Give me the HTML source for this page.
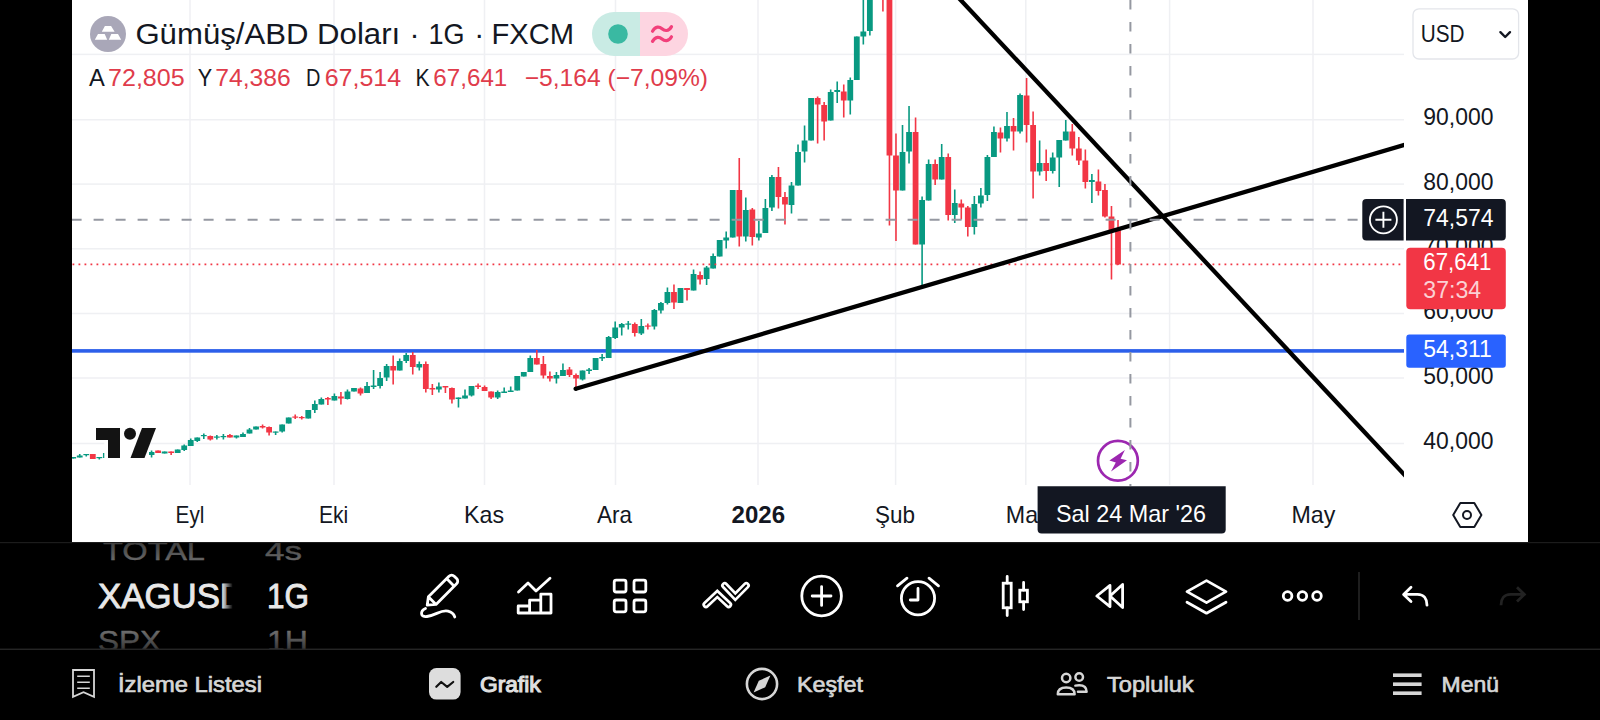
<!DOCTYPE html>
<html><head><meta charset="utf-8"><title>chart</title>
<style>
html,body{margin:0;padding:0;background:#000;}
body{width:1600px;height:720px;overflow:hidden;position:relative;font-family:"Liberation Sans",sans-serif;}
svg{position:absolute;left:0;top:0;display:block}
text{font-family:"Liberation Sans",sans-serif;}
</style></head><body>
<svg width="1600" height="720" viewBox="0 0 1600 720">
<defs>
<clipPath id="pane"><rect x="72" y="0" width="1332" height="486"/></clipPath>
<linearGradient id="fadeR" x1="0" x2="1" y1="0" y2="0"><stop offset="0" stop-color="#000" stop-opacity="0"/><stop offset="1" stop-color="#000" stop-opacity="1"/></linearGradient>
<linearGradient id="wheel" x1="0" x2="0" y1="0" y2="1">
<stop offset="0" stop-color="#000" stop-opacity="0.55"/><stop offset="0.2" stop-color="#000" stop-opacity="0.2"/><stop offset="0.36" stop-color="#000" stop-opacity="0"/><stop offset="0.64" stop-color="#000" stop-opacity="0"/><stop offset="0.8" stop-color="#000" stop-opacity="0.15"/><stop offset="1" stop-color="#000" stop-opacity="0.6"/></linearGradient>
<clipPath id="wheelclip"><rect x="72" y="543" width="330" height="106"/></clipPath>
</defs>
<rect x="0" y="0" width="1600" height="720" fill="#000"/>
<rect x="72" y="0" width="1456" height="542" fill="#fff"/>

<rect x="72" y="53.65" width="1332" height="1.5" fill="#eff0f3"/>
<rect x="72" y="119.0" width="1332" height="1.5" fill="#eff0f3"/>
<rect x="72" y="183.35" width="1332" height="1.5" fill="#eff0f3"/>
<rect x="72" y="248.05" width="1332" height="1.5" fill="#eff0f3"/>
<rect x="72" y="312.75" width="1332" height="1.5" fill="#eff0f3"/>
<rect x="72" y="377.25" width="1332" height="1.5" fill="#eff0f3"/>
<rect x="72" y="442.75" width="1332" height="1.5" fill="#eff0f3"/>
<rect x="189.25" y="0" width="1.5" height="485" fill="#eff0f3"/>
<rect x="333.25" y="0" width="1.5" height="485" fill="#eff0f3"/>
<rect x="483.75" y="0" width="1.5" height="485" fill="#eff0f3"/>
<rect x="614.75" y="0" width="1.5" height="485" fill="#eff0f3"/>
<rect x="757.25" y="0" width="1.5" height="485" fill="#eff0f3"/>
<rect x="894.85" y="0" width="1.5" height="485" fill="#eff0f3"/>
<rect x="1025.05" y="0" width="1.5" height="485" fill="#eff0f3"/>
<rect x="1168.85" y="0" width="1.5" height="485" fill="#eff0f3"/>
<rect x="1312.25" y="0" width="1.5" height="485" fill="#eff0f3"/>
<g clip-path="url(#pane)">
<rect x="72" y="349.1" width="1332" height="3.6" fill="#2c5fea"/>
<rect x="72.40" y="457.0" width="1.6" height="1.5" fill="#089981"/>
<rect x="70.30" y="457.0" width="5.8" height="1.5" fill="#089981"/>
<rect x="78.93" y="454.0" width="1.6" height="3.5" fill="#089981"/>
<rect x="76.83" y="455.5" width="5.8" height="2.0" fill="#089981"/>
<rect x="85.46" y="454.0" width="1.6" height="2.5" fill="#089981"/>
<rect x="83.36" y="454.0" width="5.8" height="1.2" fill="#089981"/>
<rect x="91.99" y="454.0" width="1.6" height="5.0" fill="#f23645"/>
<rect x="89.89" y="454.0" width="5.8" height="5.0" fill="#f23645"/>
<rect x="98.52" y="457.0" width="1.6" height="2.5" fill="#089981"/>
<rect x="96.42" y="457.0" width="5.8" height="1.2" fill="#089981"/>
<rect x="105.05" y="453.0" width="1.6" height="5.0" fill="#089981"/>
<rect x="102.95" y="453.0" width="5.8" height="5.0" fill="#089981"/>
<rect x="150.76" y="450.5" width="1.6" height="7.0" fill="#089981"/>
<rect x="148.66" y="452.0" width="5.8" height="3.0" fill="#089981"/>
<rect x="157.29" y="450.5" width="1.6" height="2.5" fill="#f23645"/>
<rect x="155.19" y="450.5" width="5.8" height="2.5" fill="#f23645"/>
<rect x="163.82" y="451.5" width="1.6" height="2.0" fill="#089981"/>
<rect x="161.72" y="451.5" width="5.8" height="2.0" fill="#089981"/>
<rect x="170.35" y="451.5" width="1.6" height="3.5" fill="#f23645"/>
<rect x="168.25" y="451.5" width="5.8" height="1.5" fill="#f23645"/>
<rect x="176.88" y="449.5" width="1.6" height="3.5" fill="#089981"/>
<rect x="174.78" y="449.5" width="5.8" height="3.5" fill="#089981"/>
<rect x="183.41" y="444.5" width="1.6" height="6.5" fill="#089981"/>
<rect x="181.31" y="445.5" width="5.8" height="4.5" fill="#089981"/>
<rect x="189.94" y="438.5" width="1.6" height="7.5" fill="#089981"/>
<rect x="187.84" y="440.0" width="5.8" height="6.0" fill="#089981"/>
<rect x="196.47" y="437.5" width="1.6" height="4.5" fill="#089981"/>
<rect x="194.37" y="437.5" width="5.8" height="3.5" fill="#089981"/>
<rect x="203.00" y="433.5" width="1.6" height="5.5" fill="#089981"/>
<rect x="200.90" y="435.0" width="5.8" height="1.2" fill="#089981"/>
<rect x="209.53" y="435.5" width="1.6" height="5.0" fill="#f23645"/>
<rect x="207.43" y="436.0" width="5.8" height="3.5" fill="#f23645"/>
<rect x="216.06" y="435.0" width="1.6" height="4.5" fill="#089981"/>
<rect x="213.96" y="436.5" width="5.8" height="1.2" fill="#089981"/>
<rect x="222.59" y="434.0" width="1.6" height="5.5" fill="#089981"/>
<rect x="220.49" y="436.0" width="5.8" height="1.2" fill="#089981"/>
<rect x="229.12" y="434.0" width="1.6" height="3.5" fill="#f23645"/>
<rect x="227.02" y="435.0" width="5.8" height="2.5" fill="#f23645"/>
<rect x="235.65" y="435.5" width="1.6" height="3.0" fill="#089981"/>
<rect x="233.55" y="435.5" width="5.8" height="2.0" fill="#089981"/>
<rect x="242.18" y="432.5" width="1.6" height="4.5" fill="#089981"/>
<rect x="240.08" y="434.0" width="5.8" height="3.0" fill="#089981"/>
<rect x="248.71" y="428.0" width="1.6" height="5.5" fill="#089981"/>
<rect x="246.61" y="429.5" width="5.8" height="4.0" fill="#089981"/>
<rect x="255.24" y="426.5" width="1.6" height="3.0" fill="#089981"/>
<rect x="253.14" y="426.5" width="5.8" height="3.0" fill="#089981"/>
<rect x="261.77" y="424.5" width="1.6" height="4.0" fill="#f23645"/>
<rect x="259.67" y="426.0" width="5.8" height="1.5" fill="#f23645"/>
<rect x="268.30" y="426.5" width="1.6" height="9.0" fill="#f23645"/>
<rect x="266.20" y="427.0" width="5.8" height="5.5" fill="#f23645"/>
<rect x="274.83" y="431.5" width="1.6" height="3.5" fill="#089981"/>
<rect x="272.73" y="431.5" width="5.8" height="1.2" fill="#089981"/>
<rect x="281.36" y="424.5" width="1.6" height="8.0" fill="#089981"/>
<rect x="279.26" y="424.5" width="5.8" height="7.0" fill="#089981"/>
<rect x="287.89" y="417.5" width="1.6" height="6.0" fill="#089981"/>
<rect x="285.79" y="417.5" width="5.8" height="6.0" fill="#089981"/>
<rect x="294.42" y="414.5" width="1.6" height="4.5" fill="#f23645"/>
<rect x="292.32" y="416.5" width="5.8" height="1.2" fill="#f23645"/>
<rect x="300.95" y="416.0" width="1.6" height="3.5" fill="#f23645"/>
<rect x="298.85" y="417.0" width="5.8" height="1.2" fill="#f23645"/>
<rect x="307.48" y="410.0" width="1.6" height="8.5" fill="#089981"/>
<rect x="305.38" y="410.0" width="5.8" height="8.5" fill="#089981"/>
<rect x="314.01" y="400.5" width="1.6" height="12.5" fill="#089981"/>
<rect x="311.91" y="404.0" width="5.8" height="6.0" fill="#089981"/>
<rect x="320.54" y="397.5" width="1.6" height="7.0" fill="#089981"/>
<rect x="318.44" y="399.0" width="5.8" height="5.5" fill="#089981"/>
<rect x="327.07" y="397.0" width="1.6" height="8.0" fill="#f23645"/>
<rect x="324.97" y="398.0" width="5.8" height="1.5" fill="#f23645"/>
<rect x="333.60" y="393.5" width="1.6" height="7.0" fill="#089981"/>
<rect x="331.50" y="396.0" width="5.8" height="4.5" fill="#089981"/>
<rect x="340.13" y="392.0" width="1.6" height="12.5" fill="#f23645"/>
<rect x="338.03" y="396.5" width="5.8" height="2.0" fill="#f23645"/>
<rect x="346.66" y="389.5" width="1.6" height="10.0" fill="#089981"/>
<rect x="344.56" y="391.5" width="5.8" height="7.5" fill="#089981"/>
<rect x="353.19" y="388.0" width="1.6" height="3.5" fill="#089981"/>
<rect x="351.09" y="388.0" width="5.8" height="3.5" fill="#089981"/>
<rect x="359.72" y="387.5" width="1.6" height="8.0" fill="#f23645"/>
<rect x="357.62" y="388.5" width="5.8" height="5.0" fill="#f23645"/>
<rect x="366.25" y="382.0" width="1.6" height="11.0" fill="#089981"/>
<rect x="364.15" y="386.0" width="5.8" height="7.0" fill="#089981"/>
<rect x="372.78" y="370.0" width="1.6" height="19.0" fill="#089981"/>
<rect x="370.68" y="385.5" width="5.8" height="1.5" fill="#089981"/>
<rect x="379.31" y="372.0" width="1.6" height="16.5" fill="#089981"/>
<rect x="377.21" y="378.0" width="5.8" height="8.0" fill="#089981"/>
<rect x="385.84" y="364.0" width="1.6" height="17.0" fill="#089981"/>
<rect x="383.74" y="366.0" width="5.8" height="11.5" fill="#089981"/>
<rect x="392.37" y="355.5" width="1.6" height="29.0" fill="#f23645"/>
<rect x="390.27" y="366.0" width="5.8" height="4.5" fill="#f23645"/>
<rect x="398.90" y="358.5" width="1.6" height="12.0" fill="#089981"/>
<rect x="396.80" y="361.0" width="5.8" height="9.5" fill="#089981"/>
<rect x="405.43" y="353.0" width="1.6" height="10.0" fill="#089981"/>
<rect x="403.33" y="355.0" width="5.8" height="6.0" fill="#089981"/>
<rect x="411.96" y="352.0" width="1.6" height="22.5" fill="#f23645"/>
<rect x="409.86" y="355.0" width="5.8" height="12.0" fill="#f23645"/>
<rect x="418.49" y="361.5" width="1.6" height="9.0" fill="#089981"/>
<rect x="416.39" y="364.0" width="5.8" height="3.5" fill="#089981"/>
<rect x="425.02" y="361.5" width="1.6" height="31.0" fill="#f23645"/>
<rect x="422.92" y="364.0" width="5.8" height="25.0" fill="#f23645"/>
<rect x="431.55" y="384.0" width="1.6" height="11.0" fill="#f23645"/>
<rect x="429.45" y="388.0" width="5.8" height="1.5" fill="#f23645"/>
<rect x="438.08" y="382.5" width="1.6" height="10.0" fill="#089981"/>
<rect x="435.98" y="386.5" width="5.8" height="3.0" fill="#089981"/>
<rect x="444.61" y="386.0" width="1.6" height="7.0" fill="#f23645"/>
<rect x="442.51" y="386.0" width="5.8" height="1.5" fill="#f23645"/>
<rect x="451.14" y="387.5" width="1.6" height="16.0" fill="#f23645"/>
<rect x="449.04" y="388.0" width="5.8" height="11.5" fill="#f23645"/>
<rect x="457.67" y="397.5" width="1.6" height="10.0" fill="#089981"/>
<rect x="455.57" y="397.5" width="5.8" height="1.5" fill="#089981"/>
<rect x="464.20" y="389.5" width="1.6" height="9.0" fill="#089981"/>
<rect x="462.10" y="395.5" width="5.8" height="3.0" fill="#089981"/>
<rect x="470.73" y="386.0" width="1.6" height="10.5" fill="#089981"/>
<rect x="468.63" y="386.0" width="5.8" height="9.5" fill="#089981"/>
<rect x="477.26" y="383.5" width="1.6" height="5.5" fill="#f23645"/>
<rect x="475.16" y="385.5" width="5.8" height="1.5" fill="#f23645"/>
<rect x="483.79" y="385.5" width="1.6" height="5.5" fill="#f23645"/>
<rect x="481.69" y="387.0" width="5.8" height="4.0" fill="#f23645"/>
<rect x="490.32" y="391.5" width="1.6" height="7.5" fill="#f23645"/>
<rect x="488.22" y="391.5" width="5.8" height="6.0" fill="#f23645"/>
<rect x="496.85" y="390.5" width="1.6" height="8.5" fill="#089981"/>
<rect x="494.75" y="392.0" width="5.8" height="5.5" fill="#089981"/>
<rect x="503.38" y="387.5" width="1.6" height="5.5" fill="#089981"/>
<rect x="501.28" y="391.5" width="5.8" height="1.5" fill="#089981"/>
<rect x="509.91" y="386.5" width="1.6" height="5.5" fill="#089981"/>
<rect x="507.81" y="390.5" width="5.8" height="1.5" fill="#089981"/>
<rect x="516.44" y="376.0" width="1.6" height="14.5" fill="#089981"/>
<rect x="514.34" y="376.0" width="5.8" height="14.5" fill="#089981"/>
<rect x="522.97" y="372.0" width="1.6" height="4.5" fill="#089981"/>
<rect x="520.87" y="372.0" width="5.8" height="4.5" fill="#089981"/>
<rect x="529.50" y="355.5" width="1.6" height="16.5" fill="#089981"/>
<rect x="527.40" y="358.0" width="5.8" height="14.0" fill="#089981"/>
<rect x="536.03" y="350.0" width="1.6" height="14.5" fill="#f23645"/>
<rect x="533.93" y="358.0" width="5.8" height="6.5" fill="#f23645"/>
<rect x="542.56" y="356.0" width="1.6" height="22.5" fill="#f23645"/>
<rect x="540.46" y="364.0" width="5.8" height="11.5" fill="#f23645"/>
<rect x="549.09" y="371.5" width="1.6" height="10.0" fill="#f23645"/>
<rect x="546.99" y="376.0" width="5.8" height="2.5" fill="#f23645"/>
<rect x="555.62" y="372.0" width="1.6" height="11.5" fill="#089981"/>
<rect x="553.52" y="375.0" width="5.8" height="3.5" fill="#089981"/>
<rect x="562.15" y="363.5" width="1.6" height="12.5" fill="#089981"/>
<rect x="560.05" y="370.0" width="5.8" height="6.0" fill="#089981"/>
<rect x="568.68" y="367.0" width="1.6" height="10.0" fill="#f23645"/>
<rect x="566.58" y="369.5" width="5.8" height="5.5" fill="#f23645"/>
<rect x="575.21" y="373.5" width="1.6" height="14.5" fill="#f23645"/>
<rect x="573.11" y="375.0" width="5.8" height="3.5" fill="#f23645"/>
<rect x="581.74" y="370.5" width="1.6" height="10.0" fill="#089981"/>
<rect x="579.64" y="370.5" width="5.8" height="9.0" fill="#089981"/>
<rect x="588.27" y="368.0" width="1.6" height="6.0" fill="#089981"/>
<rect x="586.17" y="369.5" width="5.8" height="1.5" fill="#089981"/>
<rect x="594.80" y="358.0" width="1.6" height="12.0" fill="#089981"/>
<rect x="592.70" y="358.0" width="5.8" height="12.0" fill="#089981"/>
<rect x="601.33" y="354.0" width="1.6" height="7.0" fill="#089981"/>
<rect x="599.23" y="357.0" width="5.8" height="1.5" fill="#089981"/>
<rect x="607.86" y="336.0" width="1.6" height="22.0" fill="#089981"/>
<rect x="605.76" y="337.0" width="5.8" height="21.0" fill="#089981"/>
<rect x="614.39" y="321.5" width="1.6" height="17.5" fill="#089981"/>
<rect x="612.29" y="327.5" width="5.8" height="10.5" fill="#089981"/>
<rect x="620.92" y="323.0" width="1.6" height="12.5" fill="#089981"/>
<rect x="618.82" y="324.0" width="5.8" height="3.5" fill="#089981"/>
<rect x="627.45" y="321.0" width="1.6" height="8.5" fill="#089981"/>
<rect x="625.35" y="323.5" width="5.8" height="1.2" fill="#089981"/>
<rect x="633.98" y="322.5" width="1.6" height="14.0" fill="#f23645"/>
<rect x="631.88" y="324.0" width="5.8" height="9.0" fill="#f23645"/>
<rect x="640.51" y="319.0" width="1.6" height="16.0" fill="#089981"/>
<rect x="638.41" y="326.0" width="5.8" height="7.5" fill="#089981"/>
<rect x="647.04" y="323.5" width="1.6" height="6.0" fill="#f23645"/>
<rect x="644.94" y="325.5" width="5.8" height="1.2" fill="#f23645"/>
<rect x="653.57" y="309.0" width="1.6" height="20.5" fill="#089981"/>
<rect x="651.47" y="310.0" width="5.8" height="16.5" fill="#089981"/>
<rect x="660.10" y="302.0" width="1.6" height="11.5" fill="#089981"/>
<rect x="658.00" y="303.0" width="5.8" height="7.5" fill="#089981"/>
<rect x="666.63" y="287.5" width="1.6" height="17.0" fill="#089981"/>
<rect x="664.53" y="292.0" width="5.8" height="11.0" fill="#089981"/>
<rect x="673.16" y="284.5" width="1.6" height="24.5" fill="#f23645"/>
<rect x="671.06" y="292.0" width="5.8" height="10.5" fill="#f23645"/>
<rect x="679.69" y="288.0" width="1.6" height="15.0" fill="#089981"/>
<rect x="677.59" y="288.0" width="5.8" height="15.0" fill="#089981"/>
<rect x="686.22" y="288.0" width="1.6" height="12.5" fill="#f23645"/>
<rect x="684.12" y="288.0" width="5.8" height="2.0" fill="#f23645"/>
<rect x="692.75" y="269.5" width="1.6" height="21.0" fill="#089981"/>
<rect x="690.65" y="274.0" width="5.8" height="16.5" fill="#089981"/>
<rect x="699.28" y="271.5" width="1.6" height="13.0" fill="#f23645"/>
<rect x="697.18" y="275.0" width="5.8" height="4.5" fill="#f23645"/>
<rect x="705.81" y="266.0" width="1.6" height="19.0" fill="#089981"/>
<rect x="703.71" y="267.5" width="5.8" height="11.5" fill="#089981"/>
<rect x="712.34" y="253.5" width="1.6" height="15.0" fill="#089981"/>
<rect x="710.24" y="256.0" width="5.8" height="12.5" fill="#089981"/>
<rect x="718.87" y="240.0" width="1.6" height="16.5" fill="#089981"/>
<rect x="716.77" y="240.0" width="5.8" height="16.5" fill="#089981"/>
<rect x="725.40" y="231.5" width="1.6" height="17.0" fill="#089981"/>
<rect x="723.30" y="237.5" width="5.8" height="3.0" fill="#089981"/>
<rect x="731.93" y="190.0" width="1.6" height="47.5" fill="#089981"/>
<rect x="729.83" y="190.0" width="5.8" height="47.5" fill="#089981"/>
<rect x="738.46" y="158.0" width="1.6" height="88.5" fill="#f23645"/>
<rect x="736.36" y="190.0" width="5.8" height="46.5" fill="#f23645"/>
<rect x="744.99" y="197.5" width="1.6" height="44.0" fill="#089981"/>
<rect x="742.89" y="210.0" width="5.8" height="26.5" fill="#089981"/>
<rect x="751.52" y="208.0" width="1.6" height="37.5" fill="#f23645"/>
<rect x="749.42" y="209.5" width="5.8" height="27.5" fill="#f23645"/>
<rect x="758.05" y="221.0" width="1.6" height="19.5" fill="#089981"/>
<rect x="755.95" y="233.5" width="5.8" height="4.0" fill="#089981"/>
<rect x="764.58" y="199.0" width="1.6" height="34.0" fill="#089981"/>
<rect x="762.48" y="208.0" width="5.8" height="25.0" fill="#089981"/>
<rect x="771.11" y="175.0" width="1.6" height="36.0" fill="#089981"/>
<rect x="769.01" y="177.0" width="5.8" height="30.5" fill="#089981"/>
<rect x="777.64" y="167.0" width="1.6" height="41.5" fill="#f23645"/>
<rect x="775.54" y="177.0" width="5.8" height="20.0" fill="#f23645"/>
<rect x="784.17" y="192.0" width="1.6" height="32.5" fill="#f23645"/>
<rect x="782.07" y="197.0" width="5.8" height="7.5" fill="#f23645"/>
<rect x="790.70" y="182.0" width="1.6" height="31.5" fill="#089981"/>
<rect x="788.60" y="185.5" width="5.8" height="19.5" fill="#089981"/>
<rect x="797.23" y="144.5" width="1.6" height="41.0" fill="#089981"/>
<rect x="795.13" y="152.0" width="5.8" height="33.5" fill="#089981"/>
<rect x="803.76" y="125.5" width="1.6" height="37.0" fill="#089981"/>
<rect x="801.66" y="140.5" width="5.8" height="11.0" fill="#089981"/>
<rect x="810.29" y="98.0" width="1.6" height="42.5" fill="#089981"/>
<rect x="808.19" y="98.0" width="5.8" height="42.5" fill="#089981"/>
<rect x="816.82" y="96.5" width="1.6" height="47.0" fill="#f23645"/>
<rect x="814.72" y="98.0" width="5.8" height="6.5" fill="#f23645"/>
<rect x="823.35" y="102.0" width="1.6" height="38.5" fill="#f23645"/>
<rect x="821.25" y="105.0" width="5.8" height="16.5" fill="#f23645"/>
<rect x="829.88" y="89.5" width="1.6" height="31.0" fill="#089981"/>
<rect x="827.78" y="92.0" width="5.8" height="28.5" fill="#089981"/>
<rect x="836.41" y="81.5" width="1.6" height="21.5" fill="#089981"/>
<rect x="834.31" y="90.0" width="5.8" height="2.0" fill="#089981"/>
<rect x="842.94" y="84.5" width="1.6" height="33.0" fill="#f23645"/>
<rect x="840.84" y="91.5" width="5.8" height="9.0" fill="#f23645"/>
<rect x="849.47" y="77.5" width="1.6" height="37.0" fill="#089981"/>
<rect x="847.37" y="80.0" width="5.8" height="20.5" fill="#089981"/>
<rect x="856.00" y="36.5" width="1.6" height="43.5" fill="#089981"/>
<rect x="853.90" y="36.5" width="5.8" height="43.5" fill="#089981"/>
<rect x="862.53" y="-5.0" width="1.6" height="49.5" fill="#089981"/>
<rect x="860.43" y="31.5" width="5.8" height="5.0" fill="#089981"/>
<rect x="869.06" y="-5.0" width="1.6" height="40.5" fill="#089981"/>
<rect x="866.96" y="-5.0" width="5.8" height="36.0" fill="#089981"/>
<rect x="882.12" y="-5.0" width="1.6" height="16.5" fill="#f23645"/>
<rect x="880.02" y="-5.0" width="5.8" height="3.0" fill="#f23645"/>
<rect x="888.65" y="-5.0" width="1.6" height="230.5" fill="#f23645"/>
<rect x="886.55" y="-5.0" width="5.8" height="160.5" fill="#f23645"/>
<rect x="895.18" y="133.5" width="1.6" height="107.5" fill="#f23645"/>
<rect x="893.08" y="155.5" width="5.8" height="35.0" fill="#f23645"/>
<rect x="901.71" y="125.0" width="1.6" height="65.5" fill="#089981"/>
<rect x="899.61" y="152.0" width="5.8" height="38.5" fill="#089981"/>
<rect x="908.24" y="106.0" width="1.6" height="57.5" fill="#089981"/>
<rect x="906.14" y="132.0" width="5.8" height="19.5" fill="#089981"/>
<rect x="914.77" y="117.5" width="1.6" height="127.0" fill="#f23645"/>
<rect x="912.67" y="132.0" width="5.8" height="112.5" fill="#f23645"/>
<rect x="921.30" y="196.5" width="1.6" height="90.5" fill="#089981"/>
<rect x="919.20" y="200.0" width="5.8" height="44.5" fill="#089981"/>
<rect x="927.83" y="159.5" width="1.6" height="41.0" fill="#089981"/>
<rect x="925.73" y="164.0" width="5.8" height="36.5" fill="#089981"/>
<rect x="934.36" y="159.5" width="1.6" height="25.5" fill="#f23645"/>
<rect x="932.26" y="164.0" width="5.8" height="15.5" fill="#f23645"/>
<rect x="940.89" y="144.0" width="1.6" height="35.5" fill="#089981"/>
<rect x="938.79" y="157.0" width="5.8" height="22.5" fill="#089981"/>
<rect x="947.42" y="153.5" width="1.6" height="67.0" fill="#f23645"/>
<rect x="945.32" y="157.0" width="5.8" height="58.0" fill="#f23645"/>
<rect x="953.95" y="189.5" width="1.6" height="33.5" fill="#089981"/>
<rect x="951.85" y="203.0" width="5.8" height="12.0" fill="#089981"/>
<rect x="960.48" y="199.5" width="1.6" height="20.0" fill="#f23645"/>
<rect x="958.38" y="203.5" width="5.8" height="4.0" fill="#f23645"/>
<rect x="967.01" y="206.0" width="1.6" height="30.5" fill="#f23645"/>
<rect x="964.91" y="207.5" width="5.8" height="19.5" fill="#f23645"/>
<rect x="973.54" y="196.0" width="1.6" height="38.5" fill="#089981"/>
<rect x="971.44" y="204.0" width="5.8" height="23.0" fill="#089981"/>
<rect x="980.07" y="188.0" width="1.6" height="19.5" fill="#089981"/>
<rect x="977.97" y="195.5" width="5.8" height="8.0" fill="#089981"/>
<rect x="986.60" y="155.0" width="1.6" height="46.0" fill="#089981"/>
<rect x="984.50" y="157.0" width="5.8" height="38.0" fill="#089981"/>
<rect x="993.13" y="126.5" width="1.6" height="30.5" fill="#089981"/>
<rect x="991.03" y="132.0" width="5.8" height="25.0" fill="#089981"/>
<rect x="999.66" y="127.5" width="1.6" height="25.0" fill="#f23645"/>
<rect x="997.56" y="132.5" width="5.8" height="6.0" fill="#f23645"/>
<rect x="1006.19" y="112.0" width="1.6" height="29.5" fill="#089981"/>
<rect x="1004.09" y="126.0" width="5.8" height="12.5" fill="#089981"/>
<rect x="1012.72" y="118.0" width="1.6" height="32.5" fill="#f23645"/>
<rect x="1010.62" y="126.0" width="5.8" height="5.5" fill="#f23645"/>
<rect x="1019.25" y="93.5" width="1.6" height="40.0" fill="#089981"/>
<rect x="1017.15" y="95.0" width="5.8" height="36.5" fill="#089981"/>
<rect x="1025.78" y="78.0" width="1.6" height="64.5" fill="#f23645"/>
<rect x="1023.68" y="95.5" width="5.8" height="29.5" fill="#f23645"/>
<rect x="1032.31" y="111.5" width="1.6" height="87.0" fill="#f23645"/>
<rect x="1030.21" y="125.0" width="5.8" height="46.5" fill="#f23645"/>
<rect x="1038.84" y="140.5" width="1.6" height="35.0" fill="#089981"/>
<rect x="1036.74" y="163.0" width="5.8" height="8.5" fill="#089981"/>
<rect x="1045.37" y="149.5" width="1.6" height="31.5" fill="#f23645"/>
<rect x="1043.27" y="163.0" width="5.8" height="8.0" fill="#f23645"/>
<rect x="1051.90" y="152.5" width="1.6" height="21.0" fill="#089981"/>
<rect x="1049.80" y="157.5" width="5.8" height="13.5" fill="#089981"/>
<rect x="1058.43" y="140.0" width="1.6" height="47.0" fill="#089981"/>
<rect x="1056.33" y="140.0" width="5.8" height="17.5" fill="#089981"/>
<rect x="1064.96" y="120.0" width="1.6" height="20.5" fill="#089981"/>
<rect x="1062.86" y="131.5" width="5.8" height="9.0" fill="#089981"/>
<rect x="1071.49" y="124.0" width="1.6" height="31.5" fill="#f23645"/>
<rect x="1069.39" y="131.5" width="5.8" height="17.0" fill="#f23645"/>
<rect x="1078.02" y="137.0" width="1.6" height="28.0" fill="#f23645"/>
<rect x="1075.92" y="148.5" width="5.8" height="12.0" fill="#f23645"/>
<rect x="1084.55" y="149.5" width="1.6" height="39.0" fill="#f23645"/>
<rect x="1082.45" y="160.5" width="5.8" height="21.5" fill="#f23645"/>
<rect x="1091.08" y="174.0" width="1.6" height="29.0" fill="#089981"/>
<rect x="1088.98" y="180.0" width="5.8" height="2.0" fill="#089981"/>
<rect x="1097.61" y="169.5" width="1.6" height="26.0" fill="#f23645"/>
<rect x="1095.51" y="181.5" width="5.8" height="9.5" fill="#f23645"/>
<rect x="1104.14" y="184.0" width="1.6" height="33.5" fill="#f23645"/>
<rect x="1102.04" y="190.0" width="5.8" height="26.5" fill="#f23645"/>
<rect x="1110.67" y="206.0" width="1.6" height="73.5" fill="#f23645"/>
<rect x="1108.57" y="216.5" width="5.8" height="15.0" fill="#f23645"/>
<rect x="1117.20" y="220.0" width="1.6" height="45.0" fill="#f23645"/>
<rect x="1115.10" y="228.0" width="5.8" height="36.5" fill="#f23645"/>
<line x1="72.5" y1="264.3" x2="1404" y2="264.3" stroke="#f23645" stroke-width="1.8" stroke-dasharray="1.8 4.2"/>
<line x1="575" y1="389" x2="1410" y2="143.3" stroke="#000" stroke-width="4.3" />
<circle cx="575.5" cy="388.8" r="2.1" fill="#000"/>
<line x1="940" y1="-22.1" x2="1410" y2="480.8" stroke="#000" stroke-width="4.3"/>
</g>
<rect x="104.3" y="424" width="44.7" height="38" fill="#fff"/>
<path d="M96 428H120V458H108V440H96Z" fill="#131313"/><circle cx="130" cy="433.8" r="6" fill="#131313"/><path d="M142 428H156L144.5 458H130.5Z" fill="#131313"/>
<circle cx="1117.9" cy="460.8" r="19.9" fill="#fff" stroke="#9c27b0" stroke-width="2.7"/>
<path d="M1124.9 450.1L1109.4 460.6L1115.8 462.4L1111.0 471.5L1127.0 460.3L1120.6 458.7Z" fill="#9c27b0"/>
<line x1="72" y1="219.8" x2="1362" y2="219.8" stroke="#9598a1" stroke-width="2" stroke-dasharray="10 12" stroke-dashoffset="0.4"/>
<line x1="1130.4" y1="0" x2="1130.4" y2="486" stroke="#9598a1" stroke-width="2" stroke-dasharray="9.5 12.5"/>
<circle cx="108" cy="34" r="18" fill="#a9a7b8"/>
<path d="M104.9 26.1H111.1L114.6 31.7H101.8Z M98 34.1H104.7L107.2 39.8H94.8Z M111.3 34.1H118L121.2 39.8H108.8Z" fill="#fff"/>
<text x="135.4" y="44.4" font-size="30" fill="#131722" textLength="264.8" lengthAdjust="spacingAndGlyphs" >Gümüş/ABD Doları</text>
<text x="409.5" y="44.4" font-size="30" fill="#131722" >·</text>
<text x="428.4" y="44.4" font-size="30" fill="#131722" textLength="36.1" lengthAdjust="spacingAndGlyphs" >1G</text>
<text x="474.2" y="44.4" font-size="30" fill="#131722" >·</text>
<text x="491.4" y="44.4" font-size="30" fill="#131722" textLength="82.6" lengthAdjust="spacingAndGlyphs" >FXCM</text>
<path d="M614 12H640V56H614A22 22 0 0 1 614 12Z" fill="#c9ebe4"/>
<path d="M640 12H666A22 22 0 0 1 666 56H640Z" fill="#fdd5e1"/>
<circle cx="618" cy="34" r="9.8" fill="#3ab9a2"/>
<path d="M652.5 31.2C655.5 25.8 659.5 26.6 662 28.8S668.5 31.8 671.5 26.6" fill="none" stroke="#f2407b" stroke-width="3.2" stroke-linecap="round"/>
<path d="M652.5 41.4C655.5 36 659.5 36.8 662 39S668.5 42 671.5 36.8" fill="none" stroke="#f2407b" stroke-width="3.2" stroke-linecap="round"/>
<text x="89" y="85.8" font-size="24" fill="#131722" textLength="15.8" lengthAdjust="spacingAndGlyphs" >A</text>
<text x="108" y="85.8" font-size="24" fill="#e03c4b" textLength="76.7" lengthAdjust="spacingAndGlyphs" >72,805</text>
<text x="197.8" y="85.8" font-size="24" fill="#131722" textLength="14.4" lengthAdjust="spacingAndGlyphs" >Y</text>
<text x="215.3" y="85.8" font-size="24" fill="#e03c4b" textLength="75.5" lengthAdjust="spacingAndGlyphs" >74,386</text>
<text x="306" y="85.8" font-size="24" fill="#131722" textLength="14.4" lengthAdjust="spacingAndGlyphs" >D</text>
<text x="324.7" y="85.8" font-size="24" fill="#e03c4b" textLength="76.5" lengthAdjust="spacingAndGlyphs" >67,514</text>
<text x="415.5" y="85.8" font-size="24" fill="#131722" textLength="14.2" lengthAdjust="spacingAndGlyphs" >K</text>
<text x="433.3" y="85.8" font-size="24" fill="#e03c4b" textLength="74" lengthAdjust="spacingAndGlyphs" >67,641</text>
<text x="524.7" y="85.8" font-size="24" fill="#e03c4b" textLength="183.3" lengthAdjust="spacingAndGlyphs" >−5,164 (−7,09%)</text>
<rect x="1413" y="8.8" width="105.6" height="50.2" rx="6" fill="#fff" stroke="#e3e5ea" stroke-width="1.3"/>
<text x="1420.8" y="41.7" font-size="24" fill="#131722" textLength="43.8" lengthAdjust="spacingAndGlyphs" >USD</text>
<path d="M1500.4 32.2L1505.2 37L1510 32.2" fill="none" stroke="#131722" stroke-width="2.4" stroke-linecap="round" stroke-linejoin="round"/>
<text x="1423.3" y="125.3" font-size="24" fill="#131722" textLength="70.1" lengthAdjust="spacingAndGlyphs" >90,000</text>
<text x="1423.3" y="189.7" font-size="24" fill="#131722" textLength="70.1" lengthAdjust="spacingAndGlyphs" >80,000</text>
<text x="1423.3" y="254.4" font-size="24" fill="#131722" textLength="70.1" lengthAdjust="spacingAndGlyphs" >70,000</text>
<text x="1423.3" y="319.1" font-size="24" fill="#131722" textLength="70.1" lengthAdjust="spacingAndGlyphs" >60,000</text>
<text x="1423.3" y="383.6" font-size="24" fill="#131722" textLength="70.1" lengthAdjust="spacingAndGlyphs" >50,000</text>
<text x="1423.3" y="449.1" font-size="24" fill="#131722" textLength="70.1" lengthAdjust="spacingAndGlyphs" >40,000</text>
<path d="M1366.3 199H1403.6V240.6H1366.3A4 4 0 0 1 1362.3 236.6V203A4 4 0 0 1 1366.3 199Z" fill="#131722"/>
<path d="M1406 199H1501.8A4 4 0 0 1 1505.8 203V236.6A4 4 0 0 1 1501.8 240.6H1406Z" fill="#131722"/>
<circle cx="1383.4" cy="219.8" r="13.5" fill="none" stroke="#fff" stroke-width="1.8"/>
<path d="M1375.4 219.8H1391.4M1383.4 211.8V227.8" stroke="#fff" stroke-width="1.9" fill="none"/>
<text x="1423.3" y="226.1" font-size="24" fill="#fff" textLength="70.2" lengthAdjust="spacingAndGlyphs" >74,574</text>
<rect x="1406.3" y="247.8" width="99.5" height="61.4" rx="4" fill="#f23645"/>
<text x="1423.3" y="270.3" font-size="24" fill="#fff" textLength="68.2" lengthAdjust="spacingAndGlyphs" >67,641</text>
<text x="1423.3" y="298.3" font-size="24" fill="#fbd0d4" textLength="57.8" lengthAdjust="spacingAndGlyphs" >37:34</text>
<rect x="1406.3" y="334.4" width="99.5" height="33.4" rx="3" fill="#2962ff"/>
<text x="1423.3" y="356.8" font-size="24" fill="#fff" textLength="68.5" lengthAdjust="spacingAndGlyphs" >54,311</text>
<text x="175.6" y="523.3" font-size="24" fill="#131722" textLength="28.8" lengthAdjust="spacingAndGlyphs" >Eyl</text>
<text x="319.0" y="523.3" font-size="24" fill="#131722" textLength="29.3" lengthAdjust="spacingAndGlyphs" >Eki</text>
<text x="464.0" y="523.3" font-size="24" fill="#131722" textLength="40" lengthAdjust="spacingAndGlyphs" >Kas</text>
<text x="597.0" y="523.3" font-size="24" fill="#131722" textLength="35" lengthAdjust="spacingAndGlyphs" >Ara</text>
<text x="731.5" y="523.3" font-size="24" fill="#131722" textLength="53.5" lengthAdjust="spacingAndGlyphs" font-weight="bold" >2026</text>
<text x="875.0" y="523.3" font-size="24" fill="#131722" textLength="40" lengthAdjust="spacingAndGlyphs" >Şub</text>
<text x="1005.8" y="523.3" font-size="24" fill="#131722" textLength="40" lengthAdjust="spacingAndGlyphs" >Mar</text>
<text x="1291.5" y="523.3" font-size="24" fill="#131722" textLength="43.8" lengthAdjust="spacingAndGlyphs" >May</text>
<path d="M1037.6 486.2H1225.7V529.5A4 4 0 0 1 1221.7 533.5H1041.6A4 4 0 0 1 1037.6 529.5Z" fill="#131722"/>
<text x="1056" y="521.8" font-size="24" fill="#fff" textLength="150" lengthAdjust="spacingAndGlyphs" >Sal 24 Mar '26</text>
<path d="M1453.2 515L1460.3 502.9H1474.3L1481.4 515L1474.3 527.1H1460.3Z" fill="none" stroke="#131722" stroke-width="2" stroke-linejoin="round"/>
<circle cx="1467" cy="515" r="4" fill="none" stroke="#131722" stroke-width="2"/>
<rect x="0" y="542" width="1600" height="1.2" fill="#1c1c1c"/>
<g clip-path="url(#wheelclip)">
<g transform="translate(0 560) scale(1 0.78)"><text x="103" y="0" font-size="33" fill="#8c8c8c" textLength="102" lengthAdjust="spacingAndGlyphs" stroke="#8c8c8c" stroke-width="0.5">TOTAL</text></g>
<g transform="translate(0 560) scale(1 0.78)"><text x="265" y="0" font-size="33" fill="#8c8c8c" textLength="37" lengthAdjust="spacingAndGlyphs" stroke="#8c8c8c" stroke-width="0.5">4s</text></g>
<text x="98" y="608" font-size="35" fill="#e8e8e8" textLength="147" lengthAdjust="spacingAndGlyphs" stroke="#e8e8e8" stroke-width="0.9">XAGUSD</text>
<text x="267" y="608" font-size="35" fill="#e8e8e8" textLength="42" lengthAdjust="spacingAndGlyphs" stroke="#e8e8e8" stroke-width="0.9">1G</text>
<g transform="translate(0 651) scale(1 0.88)"><text x="98" y="0" font-size="33" fill="#8c8c8c" textLength="63" lengthAdjust="spacingAndGlyphs" stroke="#8c8c8c" stroke-width="0.5">SPX</text></g>
<g transform="translate(0 651) scale(1 0.88)"><text x="267" y="0" font-size="33" fill="#8c8c8c" textLength="41" lengthAdjust="spacingAndGlyphs" stroke="#8c8c8c" stroke-width="0.5">1H</text></g>
<rect x="222" y="575" width="11" height="40" fill="url(#fadeR)"/><rect x="232.5" y="575" width="28" height="40" fill="#000"/>
<rect x="72" y="543" width="330" height="106" fill="url(#wheel)"/>
</g>
<path d="M427.2 605.2L428.4 596.8L449 576.2A3.6 3.6 0 0 1 454.2 576.2L456.6 578.6A3.6 3.6 0 0 1 456.6 583.8L436 604.4Z M428.6 597L435.8 604.2 M446.6 578.6L454.2 586.2" fill="none" stroke="#ffffff" stroke-width="2.8" stroke-linecap="round" stroke-linejoin="round" />
<path d="M425.5 608.5C420 611 420 617.5 427 616.5C436 615.2 441 609.5 448 611.2C452 612.2 454 614.5 454.8 617" fill="none" stroke="#ffffff" stroke-width="2.8" stroke-linecap="round" stroke-linejoin="round" />
<path d="M518.2 613H551V594.2H540.8V613M540.8 600.2H529.6V613M529.6 606H518.2V613" fill="none" stroke="#ffffff" stroke-width="2.8" stroke-linecap="round" stroke-linejoin="round"  stroke-linecap="butt" stroke-linejoin="miter"/>
<path d="M518.5 592L528 583L536 591L550 578.2" fill="none" stroke="#ffffff" stroke-width="2.8" stroke-linecap="round" stroke-linejoin="round"  stroke-linecap="butt" stroke-linejoin="miter"/>
<rect x="614.2" y="580.2" width="11.8" height="11.8" rx="2" fill="none" stroke="#ffffff" stroke-width="2.8"/>
<rect x="634" y="580.2" width="11.8" height="11.8" rx="2" fill="none" stroke="#ffffff" stroke-width="2.8"/>
<rect x="614.2" y="600" width="11.8" height="11.8" rx="2" fill="none" stroke="#ffffff" stroke-width="2.8"/>
<rect x="634" y="600" width="11.8" height="11.8" rx="2" fill="none" stroke="#ffffff" stroke-width="2.8"/>
<path d="M706 604.7L717.3 594L728.6 604.7" fill="none" stroke="#ffffff" stroke-width="7.2" stroke-linecap="round" stroke-linejoin="miter"/>
<path d="M706 604.7L717.3 594L728.6 604.7" fill="none" stroke="#000" stroke-width="1.8" stroke-linecap="round" stroke-linejoin="miter"/>
<path d="M724.7 585.5L735.3 596.6L746.3 585.5" fill="none" stroke="#ffffff" stroke-width="7.2" stroke-linecap="round" stroke-linejoin="miter"/>
<path d="M724.7 585.5L735.3 596.6L746.3 585.5" fill="none" stroke="#000" stroke-width="1.8" stroke-linecap="round" stroke-linejoin="miter"/>
<circle cx="821.6" cy="596" r="19.8" fill="none" stroke="#ffffff" stroke-width="2.8"/>
<path d="M812.2 596H831M821.6 586.6V605.4" fill="none" stroke="#ffffff" stroke-width="2.8" stroke-linecap="round" stroke-linejoin="round"  stroke-linecap="butt"/>
<circle cx="918" cy="598.2" r="16.6" fill="none" stroke="#ffffff" stroke-width="2.8"/>
<path d="M918 588.5V600H910.3 M897.5 585.8L907 578.2 M929 578.2L938.5 585.8" fill="none" stroke="#ffffff" stroke-width="2.8" stroke-linecap="round" stroke-linejoin="round"  stroke-linecap="butt" stroke-linejoin="miter"/>
<rect x="1003.2" y="583.2" width="8" height="24.6" fill="none" stroke="#ffffff" stroke-width="2.8"/>
<path d="M1007.2 576.4V583M1007.2 608V615.6" fill="none" stroke="#ffffff" stroke-width="2.8" stroke-linecap="round" stroke-linejoin="round"  stroke-linecap="butt"/>
<rect x="1019.8" y="590.2" width="7.6" height="11.6" fill="none" stroke="#ffffff" stroke-width="2.8"/>
<path d="M1023.6 582.4V590M1023.6 602V609.6" fill="none" stroke="#ffffff" stroke-width="2.8" stroke-linecap="round" stroke-linejoin="round"  stroke-linecap="butt"/>
<path d="M1122.6 584.5L1110 596L1122.6 607.5Z M1110 585.4L1096.8 596L1110 606.6Z" fill="none" stroke="#ffffff" stroke-width="2.8" stroke-linecap="round" stroke-linejoin="round"  stroke-linejoin="miter" stroke-linecap="butt"/>
<path d="M1187 591.6L1206.5 580.6L1226 591.6L1206.5 602.6Z M1187 602.2L1206.5 613.2L1226 602.2" fill="none" stroke="#ffffff" stroke-width="2.8" stroke-linecap="round" stroke-linejoin="round"  stroke-linejoin="miter" stroke-linecap="butt"/>
<circle cx="1287.6" cy="596" r="4.3" fill="none" stroke="#ffffff" stroke-width="2.8"/>
<circle cx="1302.4" cy="596" r="4.3" fill="none" stroke="#ffffff" stroke-width="2.8"/>
<circle cx="1317" cy="596" r="4.3" fill="none" stroke="#ffffff" stroke-width="2.8"/>
<rect x="1358.2" y="572" width="1.6" height="48" fill="#262626"/>
<path d="M1411 587.2L1403.6 594.4L1411 601.6 M1404 594.4H1417.5C1424 594.4 1427 599 1427 605.2" fill="none" stroke="#ffffff" stroke-width="2.8" stroke-linecap="round" stroke-linejoin="round"  stroke-linecap="butt" stroke-linejoin="miter"/>
<path d="M1517 587.2L1524.4 594.4L1517 601.6 M1524 594.4H1510.5C1504 594.4 1501 599 1501 605.2" fill="none" stroke="#222222" stroke-width="2.8"/>
<rect x="0" y="648.6" width="1600" height="1.3" fill="#2a2a2a"/>
<path d="M73 670H94V696.8L83.5 692.2L73 696.8Z" fill="none" stroke="#d6d6d6" stroke-width="1.8" stroke-linejoin="miter"/>
<path d="M77.2 676.2H89.8M77.2 682.2H89.8M77.2 688.2H89.8" stroke="#d6d6d6" stroke-width="1.6" fill="none"/>
<text x="118" y="692.4" font-size="22.4" fill="#d6d6d6" textLength="144" lengthAdjust="spacingAndGlyphs" stroke="#d6d6d6" stroke-width="0.7">İzleme Listesi</text>
<rect x="429" y="668" width="31.6" height="31.6" rx="7.5" fill="#dddddd"/>
<path d="M436.3 686.8L441.2 682L447.2 686.8L453.2 682" fill="none" stroke="#111" stroke-width="2.2" stroke-linecap="round" stroke-linejoin="round"/>
<text x="480" y="692.4" font-size="22.6" fill="#e0e0e0" textLength="60.6" lengthAdjust="spacingAndGlyphs" stroke="#e0e0e0" stroke-width="1.1">Grafik</text>
<circle cx="762" cy="684" r="15.1" fill="none" stroke="#d6d6d6" stroke-width="2.6"/>
<path d="M770.4 675.6L765.2 687.2L753.6 692.4L758.8 680.8Z" fill="#d6d6d6"/>
<text x="797" y="692.4" font-size="22.4" fill="#d6d6d6" textLength="66" lengthAdjust="spacingAndGlyphs" stroke="#d6d6d6" stroke-width="0.7">Keşfet</text>
<circle cx="1066.2" cy="678" r="4.2" fill="none" stroke="#d6d6d6" stroke-width="2.5"/>
<circle cx="1079.2" cy="677" r="3.8" fill="none" stroke="#d6d6d6" stroke-width="2.5"/>
<path d="M1057.8 694.2C1057.8 689.4 1061 687.4 1066.2 687.4S1074.6 689.4 1074.6 694.2Z" fill="none" stroke="#d6d6d6" stroke-width="2.5" stroke-linejoin="round"/>
<path d="M1075.4 685.6C1076.6 685.3 1077.8 685.2 1079.2 685.2C1084 685.2 1086.6 687.2 1086.6 691.8H1078" fill="none" stroke="#d6d6d6" stroke-width="2.5" stroke-linejoin="round" stroke-linecap="round"/>
<text x="1107" y="692.4" font-size="22.4" fill="#d6d6d6" textLength="86.6" lengthAdjust="spacingAndGlyphs" stroke="#d6d6d6" stroke-width="0.7">Topluluk</text>
<rect x="1393" y="673.4" width="28.6" height="3.6" fill="#d6d6d6"/>
<rect x="1393" y="682.4" width="28.6" height="3.6" fill="#d6d6d6"/>
<rect x="1393" y="691.4" width="28.6" height="3.6" fill="#d6d6d6"/>
<text x="1441.6" y="692.4" font-size="22.4" fill="#d6d6d6" textLength="57.4" lengthAdjust="spacingAndGlyphs" stroke="#d6d6d6" stroke-width="0.7">Menü</text>
</svg></body></html>
